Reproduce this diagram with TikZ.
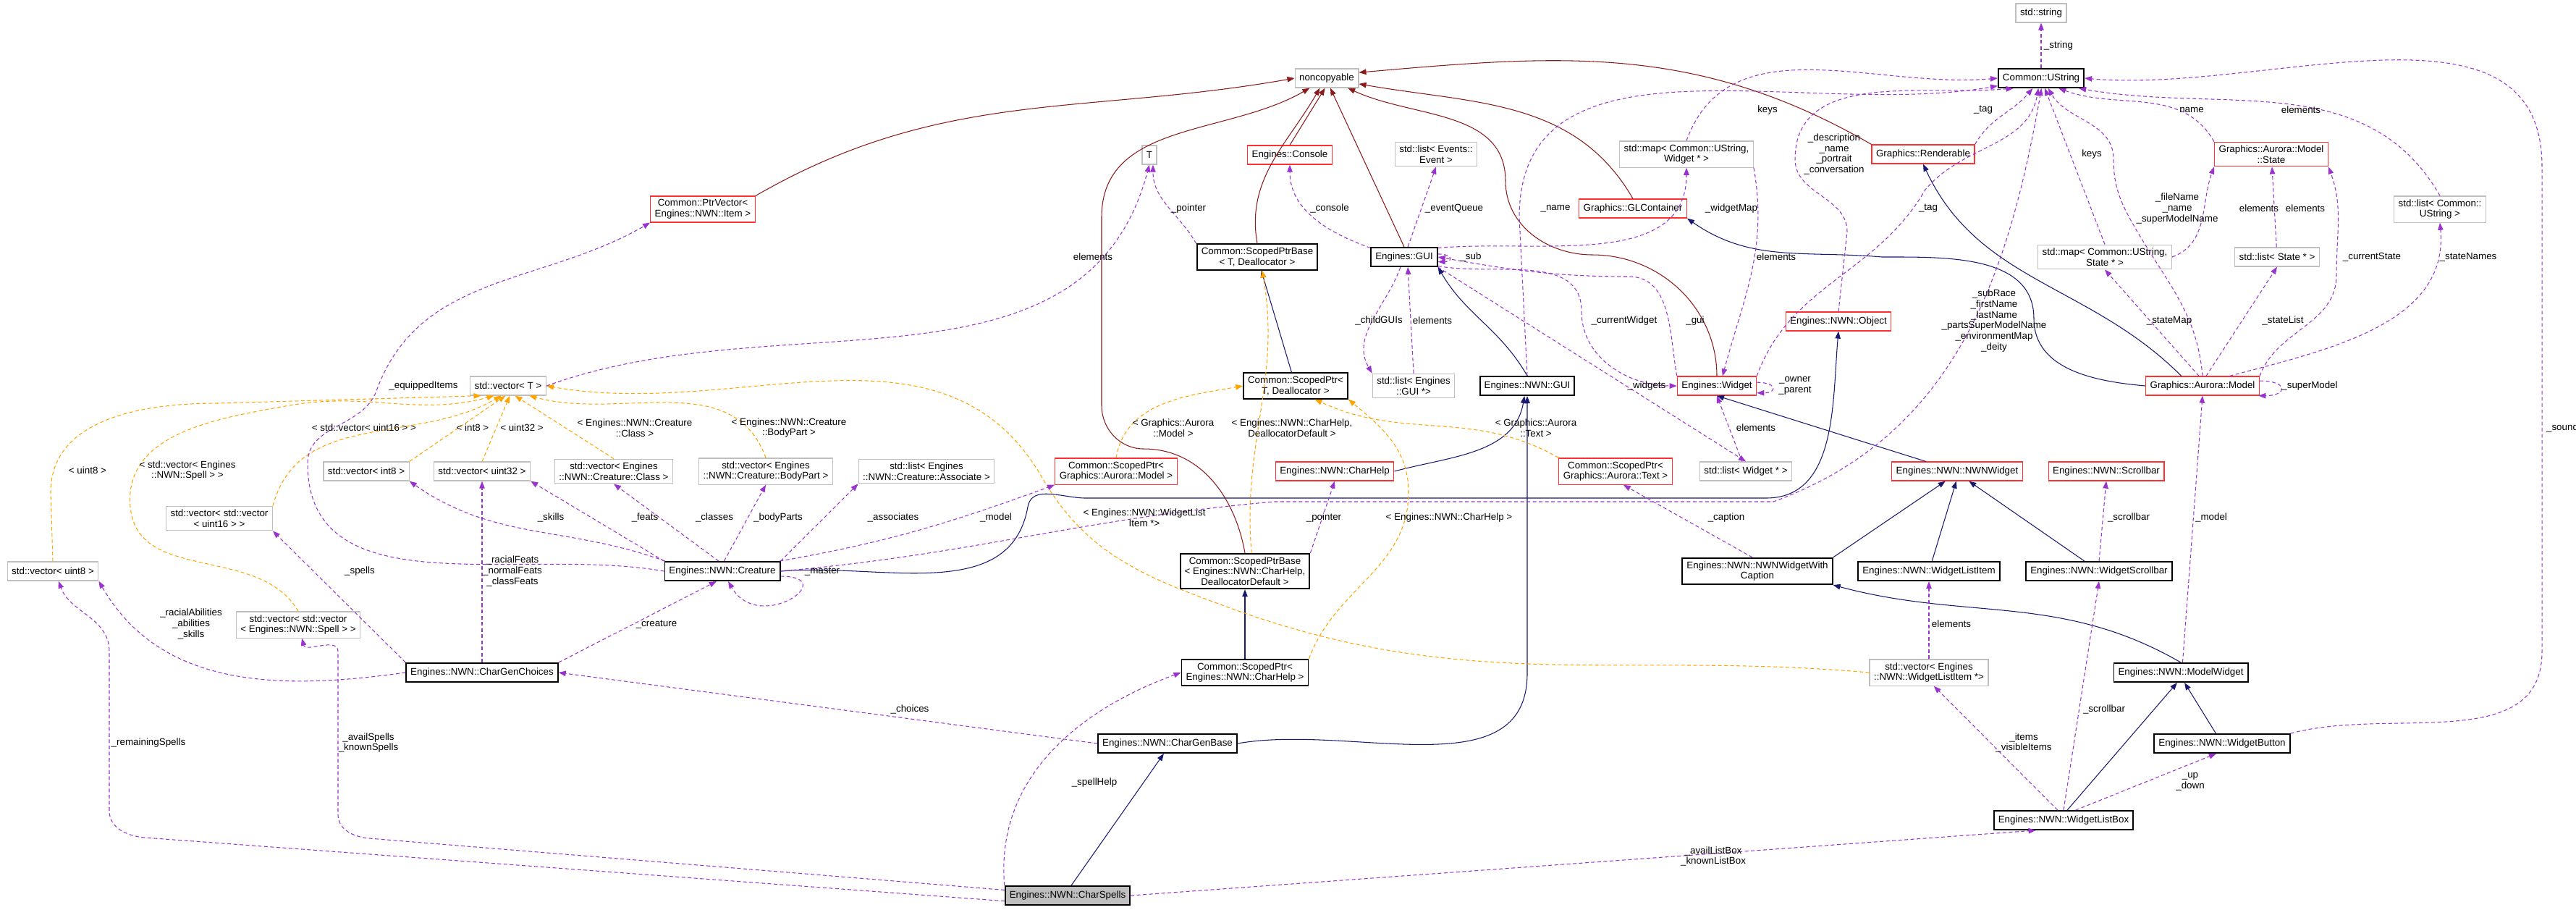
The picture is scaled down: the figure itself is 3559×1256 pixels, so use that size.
\documentclass[tikz,border=0pt]{standalone}
\usepackage{fontspec}
\setmainfont{Liberation Sans}
\usetikzlibrary{arrows.meta}
\definecolor{inhcol}{HTML}{191970}
\definecolor{privcol}{HTML}{8B1A1A}
\definecolor{usecol}{HTML}{9A32CD}
\definecolor{tmplcol}{HTML}{FFA500}
\definecolor{redline}{HTML}{FF3030}
\definecolor{greyline}{HTML}{BFBFBF}
\definecolor{boxgray}{HTML}{BFBFBF}
\newcommand{\dfont}{\fontsize{3.8}{4.2}\selectfont}
\tikzset{
  box/.style={draw, fill=white, line width=0.35pt, align=center, font=\dfont,
    inner xsep=0.06cm, inner ysep=0.045cm, minimum height=0.26cm},
  bbox/.style={box, draw=black, line width=0.55pt},
  rbox/.style={box, draw=redline},
  gbox/.style={box, draw=greyline},
  lbl/.style={font=\dfont, align=center, inner sep=0pt},
  tip/.style={-{Triangle[length=0.1cm,width=0.075cm]}},
  inh/.style={tip, draw=inhcol, line width=0.3pt},
  priv/.style={tip, draw=privcol, line width=0.3pt},
  use/.style={tip, draw=usecol, line width=0.3pt, dash pattern=on 0.05cm off 0.035cm},
  tmpl/.style={tip, draw=tmplcol, line width=0.3pt, dash pattern=on 0.05cm off 0.035cm}
}
\begin{document}
\begin{tikzpicture}[x=0.01cm,y=0.01cm]
\useasboundingbox (0,0) rectangle (3559,-1256);
% classes
\node[gbox] (str) at (2820,-18) {std::string};
\node[bbox] (ustr) at (2820,-108) {Common::UString};
\node[gbox] (nc) at (1833,-108) {noncopyable};
\node[rbox] (pvec) at (971,-289) {Common::PtrVector<\\ Engines::NWN::Item >};
\node[gbox] (tT) at (1588,-214) {T};
\node[rbox] (cons) at (1782,-214) {Engines::Console};
\node[gbox] (lev) at (1984,-213) {std::list< Events::\\Event >};
\node[gbox] (mapw) at (2330,-213) {std::map< Common::UString,\\ Widget * >};
\node[rbox] (glc) at (2256,-288) {Graphics::GLContainer};
\node[rbox] (rend) at (2657,-213) {Graphics::Renderable};
\node[rbox] (mstate) at (3138,-213) {Graphics::Aurora::Model\\::State};
\node[gbox] (lus) at (3371,-289) {std::list< Common::\\UString >};
\node[bbox] (spbT) at (1737,-355) {Common::ScopedPtrBase\\< T, Deallocator >};
\node[bbox] (gui) at (1940,-355) {Engines::GUI};
\node[gbox] (maps) at (2908,-355) {std::map< Common::UString,\\State * >};
\node[gbox] (lst) at (3146,-355) {std::list< State * >};
\node[rbox] (obj) at (2540,-444) {Engines::NWN::Object};
\node[gbox] (vT) at (702,-533) {std::vector< T >};
\node[bbox] (spT) at (1790,-533) {Common::ScopedPtr<\\T, Deallocator >};
\node[gbox] (lgui) at (1953,-533) {std::list< Engines\\::GUI *>};
\node[bbox] (ngui) at (2110,-533) {Engines::NWN::GUI};
\node[rbox] (wid) at (2372,-533) {Engines::Widget};
\node[rbox] (model) at (3043,-533) {Graphics::Aurora::Model};
\node[gbox] (v16) at (303,-716) {std::vector< std::vector\\< uint16 > >};
\node[gbox] (vi8) at (506,-651) {std::vector< int8 >};
\node[gbox] (vu32) at (666,-651) {std::vector< uint32 >};
\node[gbox] (vcls) at (848,-651) {std::vector< Engines\\::NWN::Creature::Class >};
\node[gbox] (vbp) at (1058,-651) {std::vector< Engines\\::NWN::Creature::BodyPart >};
\node[gbox] (lass) at (1280,-651) {std::list< Engines\\::NWN::Creature::Associate >};
\node[rbox] (spm) at (1542,-651) {Common::ScopedPtr<\\Graphics::Aurora::Model >};
\node[rbox] (chelp) at (1844,-651) {Engines::NWN::CharHelp};
\node[rbox] (spt) at (2232,-651) {Common::ScopedPtr<\\Graphics::Aurora::Text >};
\node[gbox] (lwid) at (2412,-651) {std::list< Widget * >};
\node[rbox] (nww) at (2704,-651) {Engines::NWN::NWNWidget};
\node[rbox] (sbar) at (2910,-651) {Engines::NWN::Scrollbar};
\node[gbox] (v8) at (73,-789) {std::vector< uint8 >};
\node[bbox] (crea) at (998,-789) {Engines::NWN::Creature};
\node[bbox] (spbH) at (1720,-789) {Common::ScopedPtrBase\\< Engines::NWN::CharHelp,\\DeallocatorDefault >};
\node[bbox] (nwwc) at (2428,-789) {Engines::NWN::NWNWidgetWith\\Caption};
\node[bbox] (wli) at (2665,-789) {Engines::NWN::WidgetListItem};
\node[bbox] (wsb) at (2900,-789) {Engines::NWN::WidgetScrollbar};
\node[gbox] (vsp) at (412,-863) {std::vector< std::vector\\< Engines::NWN::Spell > >};
\node[bbox] (cgc) at (666,-929) {Engines::NWN::CharGenChoices};
\node[bbox] (spH) at (1720,-929) {Common::ScopedPtr<\\Engines::NWN::CharHelp >};
\node[gbox] (vwli) at (2665,-929) {std::vector< Engines\\::NWN::WidgetListItem *>};
\node[bbox] (mw) at (3013,-929) {Engines::NWN::ModelWidget};
\node[bbox] (cgb) at (1613,-1027) {Engines::NWN::CharGenBase};
\node[bbox] (wbtn) at (3070,-1027) {Engines::NWN::WidgetButton};
\node[bbox] (wlb) at (2851,-1133) {Engines::NWN::WidgetListBox};
\node[bbox, fill=boxgray] (cs) at (1475,-1237) {Engines::NWN::CharSpells};
% inheritance
\draw[inh] (spT) -- (spbT);
\draw[inh] (ngui.north) to[out=120,in=-60] (gui.south east);
\draw[inh] (chelp.east) to[out=15,in=-100] (ngui.255);
\draw[inh] (cgb.east) to[out=10,in=-90] (2110,-930) -- (ngui.south);
\draw[inh] (crea.east) to[out=5,in=-100] (1420,-700) to[out=80,in=180] (1500,-688) -- (2440,-688) to[out=0,in=-95] (obj.south);
\draw[inh] (model.west) to[out=175,in=-90] (2810,-440) to[out=90,in=0] (2600,-355) to[out=175,in=-35] (glc.south east);
\draw[inh] (model.155) to[out=135,in=-65] (rend.south);
\draw[inh] (nww) -- (wid.south);
\draw[inh] (nwwc.north east) -- (nww.220);
\draw[inh] (wli) -- (nww.265);
\draw[inh] (wsb) -- (nww.320);
\draw[inh] (mw.north) to[out=150,in=-15] (nwwc.south east);
\draw[inh] (wlb.70) -- (mw.250);
\draw[inh] (wbtn) -- (mw.290);
\draw[inh] (spH) -- (spbH);
\draw[inh] (cs.70) -- (cgb.250);
% noncopyable
\draw[priv] (pvec.north east) to[out=30,in=190] (nc.west);
\draw[priv] (spbT.north) to[out=100,in=-120] (nc.235);
\draw[priv] (cons.north) -- (nc.260);
\draw[priv] (gui.north) -- (nc.290);
\draw[priv] (wid.north) to[out=90,in=0] (2200,-352) to[out=180,in=-90] (2080,-250) to[out=90,in=-25] (nc.335);
\draw[priv] (glc.north) to[out=120,in=-10] (nc.350);
\draw[priv] (rend.north west) to[out=150,in=5] (nc.10);
\draw[priv] (spbH.north) to[out=100,in=0] (1580,-620) to[out=180,in=-90] (1522,-560) -- (1522,-300) to[out=90,in=210] (nc.210);
% templates
\draw[tmpl] (v8.north) -- (70,-680) to[out=90,in=180] (300,-557) -- (vT.200);
\draw[tmpl] (v16.north east) to[out=75,in=-150] (vT.235);
\draw[tmpl] (vsp.north) to[out=120,in=-85] (180,-700) to[out=95,in=190] (400,-560) to[out=10,in=-165] (vT.215);
\draw[tmpl] (vi8.north east) -- (vT.255);
\draw[tmpl] (vu32.north) -- (vT.280);
\draw[tmpl] (vcls.north) -- (vT.305);
\draw[tmpl] (vbp.north) to[out=110,in=-15] (vT.335);
\draw[tmpl] (vwli.west) to[out=175,in=-20] (1700,-840) to[out=160,in=-60] (1440,-660) to[out=120,in=-10] (vT.east);
\draw[tmpl] (spbH.70) to[out=95,in=-80] (spbT.290);
\draw[tmpl] (spm.north) to[out=80,in=190] (spT.west);
\draw[tmpl] (spH.north east) to[out=70,in=-90] (1946,-680) to[out=90,in=-40] (spT.south east);
\draw[tmpl] (spt.north west) to[out=150,in=-25] (spT.325);
% usage
\draw[use] (ustr) -- (str);
\draw[use] (mapw.north) to[out=70,in=185] (ustr.west);
\draw[use] (ngui.north) -- (2099,-300) to[out=90,in=190] (ustr.190);
\draw[use] (obj.north) -- (2552,-320) to[out=90,in=-90] (2480,-220) to[out=90,in=185] (ustr.200);
\draw[use] (rend.north east) to[out=60,in=-130] (ustr.230);
\draw[use] (wid.north east) to[out=70,in=-120] (2660,-262) to[out=50,in=-100] (ustr.255);
\draw[use] (crea.east) to[out=5,in=185] (1760,-693) -- (2450,-693) to[out=20,in=-100] (ustr.272);
\draw[use] (maps.north) -- (ustr.290);
\draw[use] (model.north) to[out=95,in=-60] (2950,-315) to[out=120,in=-90] (2920,-220) to[out=90,in=-60] (ustr.305);
\draw[use] (mstate.north west) to[out=120,in=-20] (ustr.330);
\draw[use] (lus.north) to[out=120,in=-10] (ustr.345);
\draw[use] (wbtn.north east) to[out=15,in=-90] (3512,-900) -- (3512,-230) to[out=90,in=-5] (ustr.east);
\draw[use] (mapw.south east) to[out=-80,in=75] (wid.60);
\draw[use] (vT.east) to[out=20,in=-105] (tT.south);
\draw[use] (spbT.north west) to[out=120,in=-90] (tT.290);
\draw[use] (gui.165) to[out=160,in=-90] (cons.south);
\draw[use] (gui.70) -- (lev.south);
\draw[use] (gui.15) to[out=5,in=-90] (mapw.south);
\draw[use] (gui.5) to[out=0,in=0,looseness=5] (gui.-8);
\draw[use] (gui.250) to[out=-110,in=120] (lgui.north west);
\draw[use] (lgui.north) -- (gui.290);
\draw[use] (gui.345) to[out=-10,in=90] (2185,-430) to[out=-90,in=180] (wid.west);
\draw[use] (wid.north west) to[out=100,in=0] (2250,-382) to[out=180,in=-10] (gui.east);
\draw[use] (gui.south east) -- (lwid.north);
\draw[use] (lwid) -- (wid.south);
\draw[use] (wid.5) to[out=0,in=0,looseness=5] (wid.-10);
\draw[use] (maps.east) to[out=20,in=-110] (mstate.south west);
\draw[use] (lst) -- (mstate);
\draw[use] (model.north east) to[out=70,in=-90] (3228,-380) to[out=90,in=-70] (mstate.south east);
\draw[use] (model.110) -- (maps.south);
\draw[use] (model.70) -- (lst.south);
\draw[use] (model.20) to[out=15,in=-85] (lus.south);
\draw[use] (model.5) to[out=0,in=0,looseness=5] (model.-10);
\draw[use] (mw.80) -- (model.south);
\draw[use] (crea.west) to[out=170,in=-90] (425,-640) to[out=90,in=-110] (520,-540) to[out=70,in=210] (pvec.south west);
\draw[use] (crea.170) to[out=160,in=-35] (vi8.south east);
\draw[use] (crea.north west) -- (vu32.south east);
\draw[use] (crea.110) -- (vcls.south);
\draw[use] (crea.80) -- (vbp.south);
\draw[use] (crea.north east) -- (lass.south west);
\draw[use] (crea.10) to[out=10,in=200] (spm.south west);
\draw[use] (crea.-5) to[out=0,in=-60,looseness=3] (crea.-60);
\draw[use] (cgc.north east) -- (crea.240);
\draw[use] (cgc.north) -- (vu32.south);
\draw[use] (cgc.north west) -- (v16.south east);
\draw[use] (cgc.west) to[out=188,in=-60] (v8.south east);
\draw[use] (cgb.west) -- (cgc.east);
\draw[use] (spbH.north east) -- (chelp.south);
\draw[use] (cs.north west) to[out=95,in=200] (spH.west);
\draw[use] (cs.185) -- (200,-1157) to[out=175,in=-90] (151,-1120) -- (151,-900) to[out=90,in=-70] (v8.300);
\draw[use] (cs.175) -- (510,-1158) to[out=175,in=-90] (467,-1125) -- (467,-900) to[out=90,in=-75] (vsp.285);
\draw[use] (cs.east) -- (wlb.200);
\draw[use] (nwwc.110) -- (spt.300);
\draw[use] (wsb.north) -- (sbar.south);
\draw[use] (vwli.north) -- (wli.south);
\draw[use] (wlb.120) -- (vwli.290);
\draw[use] (wlb.north) -- (wsb.south);
\draw[use] (wlb.40) -- (wbtn.240);
% labels
\node[lbl] (lString) at (2844,-63) {\_string};
\node[lbl] (lKeysW) at (2442,-152) {keys};
\node[lbl] (lTagR) at (2740,-152) {\_tag};
\node[lbl] (lNameS) at (3028,-152) {name};
\node[lbl] (lElemU) at (3179,-152) {elements};
\node[lbl] (lDesc) at (2534,-213) {\_description\\\_name\\\_portrait\\\_conversation};
\node[lbl] (lKeysS) at (2890,-213) {keys};
\node[lbl] (lFile) at (3008,-288) {\_fileName\\\_name\\\_superModelName};
\node[lbl] (lElemS1) at (3121,-288) {elements};
\node[lbl] (lElemS2) at (3185,-288) {elements};
\node[lbl] (lTagW) at (2664,-288) {\_tag};
\node[lbl] (lCurState) at (3277,-355) {\_currentState};
\node[lbl] (lStNames) at (3410,-355) {\_stateNames};
\node[lbl] (lElemMW) at (2454,-355) {elements};
\node[lbl] (lSubRace) at (2755,-443) {\_subRace\\\_firstName\\\_lastName\\\_partsSuperModelName\\\_environmentMap\\\_deity};
\node[lbl] (lStMap) at (2997,-443) {\_stateMap};
\node[lbl] (lStList) at (3154,-443) {\_stateList};
\node[lbl] (lOwner) at (2480,-533) {\_owner\\\_parent};
\node[lbl] (lSuper) at (3191,-533) {\_superModel};
\node[lbl] (lElemLW) at (2426,-591) {elements};
\node[lbl] (lSound) at (3540,-591) {\_sound};
\node[lbl] (lPtrT) at (1642,-288) {\_pointer};
\node[lbl] (lCons) at (1837,-288) {\_console};
\node[lbl] (lEvQ) at (2009,-288) {\_eventQueue};
\node[lbl] (lNameG) at (2149,-288) {\_name};
\node[lbl] (lWMap) at (2392,-288) {\_widgetMap};
\node[lbl] (lElemT) at (1510,-355) {elements};
\node[lbl] (lSub) at (2032,-355) {\_sub};
\node[lbl] (lChild) at (1905,-443) {\_childGUIs};
\node[lbl] (lElemG) at (1979,-443) {elements};
\node[lbl] (lCurW) at (2244,-443) {\_currentWidget};
\node[lbl] (lGui) at (2342,-443) {\_gui};
\node[lbl] (lWids) at (2275,-533) {\_widgets};
\node[lbl] (lTModel) at (1621,-591) {< Graphics::Aurora\\::Model >};
\node[lbl] (lTBaseH) at (1785,-591) {< Engines::NWN::CharHelp,\\DeallocatorDefault >};
\node[lbl] (lTText) at (2122,-591) {< Graphics::Aurora\\::Text >};
\node[lbl] (lEquip) at (585,-533) {\_equippedItems};
\node[lbl] (lT16) at (503,-591) {< std::vector< uint16 > >};
\node[lbl] (lTi8) at (653,-591) {< int8 >};
\node[lbl] (lTu32) at (721,-591) {< uint32 >};
\node[lbl] (lTCls) at (877,-591) {< Engines::NWN::Creature\\::Class >};
\node[lbl] (lTBp) at (1090,-591) {< Engines::NWN::Creature\\::BodyPart >};
\node[lbl] (lTu8) at (121,-650) {< uint8 >};
\node[lbl] (lTSp) at (259,-650) {< std::vector< Engines\\::NWN::Spell > >};
\node[lbl] (lSkills) at (761,-715) {\_skills};
\node[lbl] (lFeats) at (891,-715) {\_feats};
\node[lbl] (lClasses) at (987,-715) {\_classes};
\node[lbl] (lBody) at (1075,-715) {\_bodyParts};
\node[lbl] (lSpells) at (497,-789) {\_spells};
\node[lbl] (lRFeats) at (708,-789) {\_racialFeats\\\_normalFeats\\\_classFeats};
\node[lbl] (lMaster) at (1136,-789) {\_master};
\node[lbl] (lRAb) at (264,-862) {\_racialAbilities\\\_abilities\\\_skills};
\node[lbl] (lCrea) at (907,-862) {\_creature};
\node[lbl] (lRemain) at (205,-1026) {\_remainingSpells};
\node[lbl] (lAvail) at (509,-1026) {\_availSpells\\\_knownSpells};
\node[lbl] (lAssoc) at (1234,-715) {\_associates};
\node[lbl] (lModelC) at (1376,-715) {\_model};
\node[lbl] (lTWli) at (1581,-715) {< Engines::NWN::WidgetList\\Item *>};
\node[lbl] (lPtrH) at (1829,-715) {\_pointer};
\node[lbl] (lTHelp) at (2002,-715) {< Engines::NWN::CharHelp >};
\node[lbl] (lCapt) at (2385,-715) {\_caption};
\node[lbl] (lChoices) at (1257,-980) {\_choices};
\node[lbl] (lSpHelp) at (1512,-1081) {\_spellHelp};
\node[lbl] (lListBox) at (2367,-1183) {\_availListBox\\\_knownListBox};
\node[lbl] (lSbar1) at (2941,-715) {\_scrollbar};
\node[lbl] (lModelW) at (3055,-715) {\_model};
\node[lbl] (lElemWli) at (2696,-862) {elements};
\node[lbl] (lSbar2) at (2907,-980) {\_scrollbar};
\node[lbl] (lItems) at (2796,-1026) {\_items\\\_visibleItems};
\node[lbl] (lUp) at (3026,-1080) {\_up\\\_down};
\end{tikzpicture}
\end{document}
